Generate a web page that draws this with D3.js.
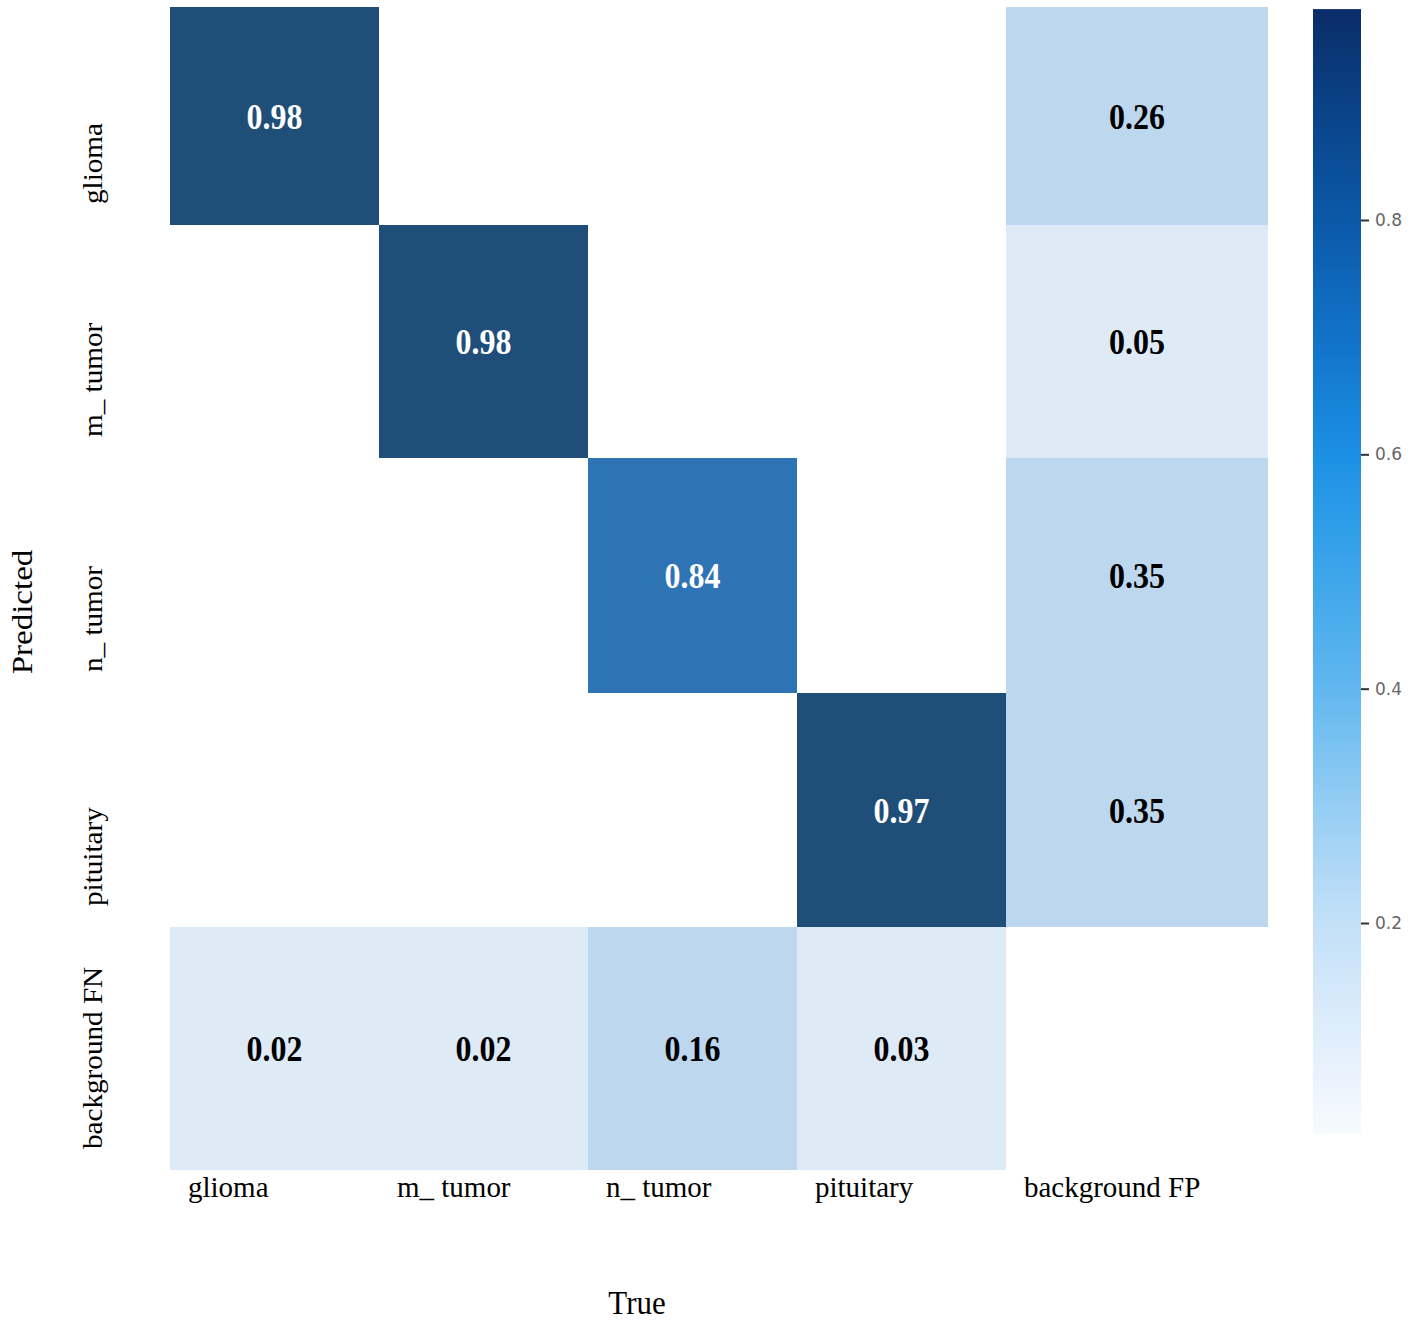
<!DOCTYPE html>
<html>
<head>
<meta charset="utf-8">
<script src="https://cdn.jsdelivr.net/npm/d3@7"></script>
<style>
  body { margin: 0; background: #fff; }
  svg { display: block; }
</style>
</head>
<body>
<svg id="chart" width="1417" height="1322"></svg>
<script>
// confusion matrix: rows = predicted, columns = true
const trueLabels = ['glioma', 'm_ tumor', 'n_ tumor', 'pituitary', 'background FP'];
const predLabels = ['glioma', 'm_ tumor', 'n_ tumor', 'pituitary', 'background FN'];
const gliomaRow = [0.98, null, null, null, 0.26];
const mTumorRow = [null, 0.98, null, null, 0.05];
const nTumorRow = [null, null, 0.84, null, 0.35];
const pituitaryRow = [null, null, null, 0.97, 0.35];
const backgroundRow = [0.02, 0.02, 0.16, 0.03, null];
const colorbarTicks = [0.2, 0.4, 0.6, 0.8];

const rows = [gliomaRow, mTumorRow, nTumorRow, pituitaryRow, backgroundRow];

const svg = d3.select('#chart');
const serif = '"Liberation Serif", "Times New Roman", serif';

// the figure is not a regular grid, so cell edges are piecewise
const colEdges = [170, 379, 588, 797, 1006, 1268];
const rowEdges = [7, 225, 458, 693, 927, 1170];
const xEdge = d3.scaleLinear().domain(d3.range(6)).range(colEdges);
const yEdge = d3.scaleLinear().domain(d3.range(6)).range(rowEdges);

const cells = [];
rows.forEach((r, i) => r.forEach((v, j) => {
  if (v !== null) cells.push({ row: i, col: j, value: v });
}));

const allValues = cells.map(d => d.value);
const vmin = d3.min(allValues);
const vmax = d3.max(allValues);

// cells are filled with stepped shades
const cellColor = d3.scaleThreshold()
  .domain([0.1, 0.5, 0.9])
  .range(['#deebf7', '#bdd7ee', '#2e73b4', '#1f4e79']);

svg.append('g')
  .selectAll('rect')
  .data(cells)
  .enter()
  .append('rect')
  .attr('x', d => xEdge(d.col))
  .attr('y', d => yEdge(d.row))
  .attr('width', d => xEdge(d.col + 1) - xEdge(d.col))
  .attr('height', d => yEdge(d.row + 1) - yEdge(d.row))
  .attr('fill', d => cellColor(d.value));

svg.append('g')
  .selectAll('text')
  .data(cells)
  .enter()
  .append('text')
  .attr('transform', d => {
    const cx = (xEdge(d.col) + xEdge(d.col + 1)) / 2;
    const cy = (yEdge(d.row) + yEdge(d.row + 1)) / 2;
    return `translate(${cx},${cy}) scale(1,1.12)`;
  })
  .attr('text-anchor', 'middle')
  .attr('dy', '0.35em')
  .style('font-family', serif)
  .style('font-weight', 'bold')
  .style('font-size', '32px')
  .attr('fill', d => d.value > 0.6 ? '#fff' : '#000')
  .text(d => d.value.toFixed(2));

// x tick labels
svg.append('g')
  .selectAll('text')
  .data(trueLabels)
  .enter()
  .append('text')
  .attr('transform', (d, i) => `translate(${xEdge(i) + 18},1197) scale(1,1.05)`)
  .attr('text-anchor', 'start')
  .style('font-family', serif)
  .style('font-size', '29px')
  .attr('fill', '#000')
  .text(d => d);

// y tick labels
svg.append('g')
  .selectAll('text')
  .data(predLabels)
  .enter()
  .append('text')
  .attr('transform', (d, i) => `translate(102,${yEdge(i + 1) - 21}) rotate(-90) scale(1.08,1)`)
  .attr('text-anchor', 'start')
  .style('font-family', serif)
  .style('font-size', '27px')
  .attr('fill', '#000')
  .text(d => d);

svg.append('text')
  .attr('transform', 'translate(637,1314) scale(1,1.1)')
  .attr('text-anchor', 'middle')
  .style('font-family', serif)
  .style('font-size', '31px')
  .text('True');

svg.append('text')
  .attr('transform', 'translate(32,612) rotate(-90) scale(1.1,1)')
  .attr('text-anchor', 'middle')
  .style('font-family', serif)
  .style('font-size', '30px')
  .text('Predicted');

// colorbar
const cbX = 1313;
const cbW = 48;
const cbScale = d3.scaleLinear().domain([0.2, 0.8]).range([923, 220]);
const cbColor = d3.scaleLinear()
  .domain([0.02, 0.1, 0.2, 0.3, 0.4, 0.5, 0.6, 0.7, 0.8, 0.9, 0.98])
  .range(['#f7fbff', '#e1eefb', '#c4e0f8', '#95cdf3', '#62b7ef', '#3ca5eb', '#1b90e4', '#1172c9', '#0b58a8', '#0a4186', '#0a2c68']);

const defs = svg.append('defs');
const grad = defs.append('linearGradient')
  .attr('id', 'cbgrad')
  .attr('x1', 0).attr('x2', 0).attr('y1', 1).attr('y2', 0);
grad.selectAll('stop')
  .data(d3.range(0, 1.0001, 0.05))
  .enter()
  .append('stop')
  .attr('offset', t => t)
  .attr('stop-color', t => cbColor(vmin + t * (vmax - vmin)));

svg.append('rect')
  .attr('x', cbX)
  .attr('y', cbScale(vmax))
  .attr('width', cbW)
  .attr('height', cbScale(vmin) - cbScale(vmax))
  .attr('fill', 'url(#cbgrad)');

const cbAxis = d3.axisRight(cbScale)
  .tickValues(colorbarTicks)
  .tickSize(8)
  .tickPadding(6)
  .tickFormat(d3.format('.1f'));

const cbG = svg.append('g')
  .attr('transform', `translate(${cbX + cbW},0)`)
  .call(cbAxis);
cbG.select('.domain').remove();
cbG.selectAll('line').attr('stroke', '#333').attr('stroke-width', 2);
cbG.selectAll('text')
  .style('font-family', '"DejaVu Sans", sans-serif')
  .style('font-size', '17px')
  .attr('fill', '#666');
</script>
</body>
</html>
